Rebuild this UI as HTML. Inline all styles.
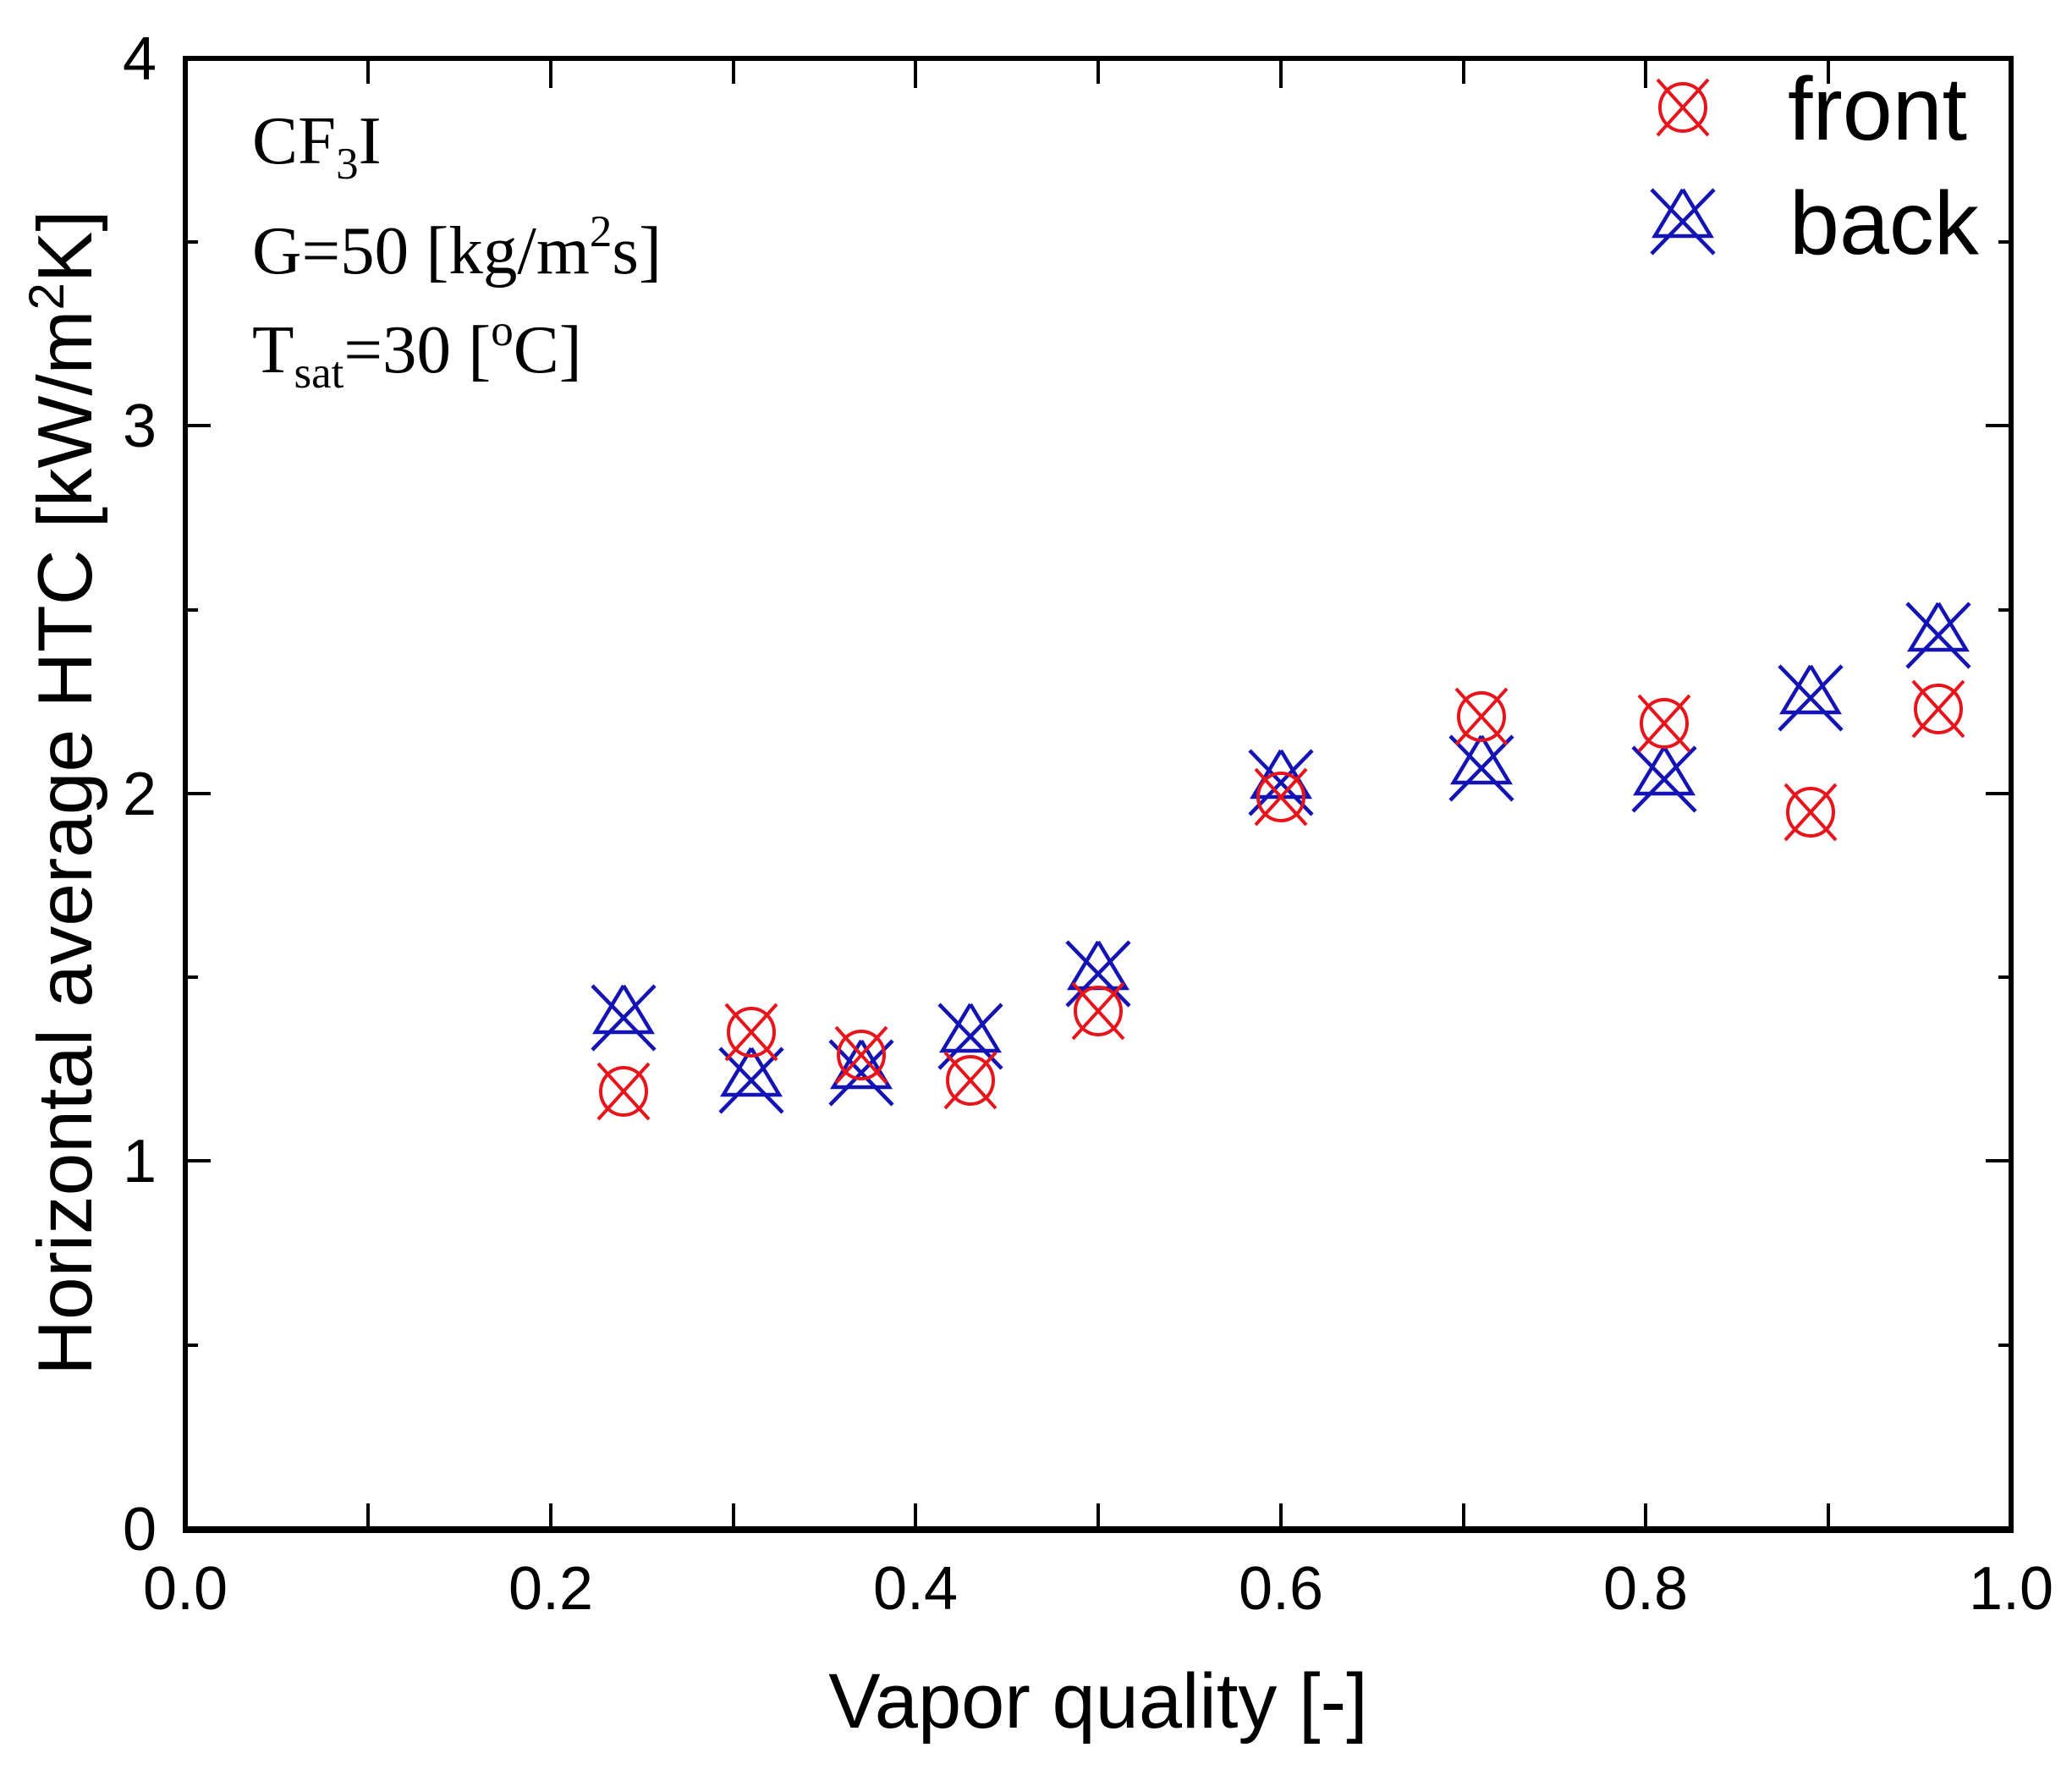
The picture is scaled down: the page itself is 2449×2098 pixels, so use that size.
<!DOCTYPE html>
<html><head><meta charset="utf-8"><style>
html,body{margin:0;padding:0;background:#fff;}
svg{display:block;}
</style></head><body>
<svg width="2449" height="2098" viewBox="0 0 2449 2098" xmlns="http://www.w3.org/2000/svg">
<defs>
<g id="f" fill="none" stroke="#e8141b" stroke-width="4">
<ellipse cx="0" cy="0" rx="27" ry="28"/>
<line x1="-30" y1="-33" x2="30" y2="33"/><line x1="30" y1="-33" x2="-30" y2="33"/>
</g>
<g id="b" fill="none" stroke="#1414b4" stroke-width="4.5">
<line x1="-37" y1="-38" x2="37" y2="38"/><line x1="37" y1="-38" x2="-37" y2="38"/>
<polyline points="0,-38 -33,17 33,17 0,-38"/>
</g>
</defs>
<rect x="219" y="69" width="2158" height="1738" fill="none" stroke="#000" stroke-width="6"/>
<line x1="216" y1="1808" x2="2380" y2="1808" stroke="#000" stroke-width="8"/>
<g stroke="#000" stroke-width="4">
<line x1="435" y1="1807" x2="435" y2="1777"/><line x1="651" y1="1807" x2="651" y2="1777"/><line x1="867" y1="1807" x2="867" y2="1777"/><line x1="1082" y1="1807" x2="1082" y2="1777"/><line x1="1298" y1="1807" x2="1298" y2="1777"/><line x1="1514" y1="1807" x2="1514" y2="1777"/><line x1="1730" y1="1807" x2="1730" y2="1777"/><line x1="1945" y1="1807" x2="1945" y2="1777"/><line x1="2161" y1="1807" x2="2161" y2="1777"/>
<line x1="435" y1="69" x2="435" y2="99"/><line x1="651" y1="69" x2="651" y2="104"/><line x1="867" y1="69" x2="867" y2="99"/><line x1="1082" y1="69" x2="1082" y2="104"/><line x1="1298" y1="69" x2="1298" y2="99"/><line x1="1514" y1="69" x2="1514" y2="104"/><line x1="1730" y1="69" x2="1730" y2="99"/><line x1="1945" y1="69" x2="1945" y2="104"/><line x1="2161" y1="69" x2="2161" y2="99"/>
<line x1="219" y1="1590" x2="234" y2="1590"/><line x1="219" y1="1372" x2="249" y2="1372"/><line x1="219" y1="1155" x2="234" y2="1155"/><line x1="219" y1="938" x2="249" y2="938"/><line x1="219" y1="721" x2="234" y2="721"/><line x1="219" y1="503" x2="249" y2="503"/><line x1="219" y1="286" x2="234" y2="286"/>
<line x1="2377" y1="1590" x2="2362" y2="1590"/><line x1="2377" y1="1372" x2="2347" y2="1372"/><line x1="2377" y1="1155" x2="2362" y2="1155"/><line x1="2377" y1="938" x2="2347" y2="938"/><line x1="2377" y1="721" x2="2362" y2="721"/><line x1="2377" y1="503" x2="2347" y2="503"/><line x1="2377" y1="286" x2="2362" y2="286"/>
</g>
<g font-family="Liberation Sans, sans-serif" font-size="72" fill="#000" text-anchor="middle">
<text x="219" y="1902">0.0</text><text x="651" y="1902">0.2</text><text x="1082" y="1902">0.4</text><text x="1514" y="1902">0.6</text><text x="1945" y="1902">0.8</text><text x="2377" y="1902">1.0</text>
</g>
<g font-family="Liberation Sans, sans-serif" font-size="72" fill="#000" text-anchor="end">
<text x="185" y="1832">0</text><text x="185" y="1397">1</text><text x="185" y="963">2</text><text x="185" y="528">3</text><text x="185" y="94">4</text>
</g>
<text x="1298" y="2042" font-family="Liberation Sans, sans-serif" font-size="92" text-anchor="middle">Vapor quality [-]</text>
<text transform="translate(108,937) rotate(-90)" font-family="Liberation Sans, sans-serif" font-size="91" text-anchor="middle">Horizontal average HTC [kW/m<tspan font-size="58" dy="-33">2</tspan><tspan dy="33">K]</tspan></text>
<g font-family="Liberation Serif, serif" font-size="81" fill="#000">
<text x="298" y="193">CF<tspan font-size="53" dy="18">3</tspan><tspan dy="-18">I</tspan></text>
<text x="298" y="323">G=50 [kg/m<tspan font-size="53" dy="-32">2</tspan><tspan dy="32">s]</tspan></text>
<text x="298" y="440">T<tspan font-size="53" dy="18">sat</tspan><tspan dy="-18">=30 [</tspan><tspan font-size="53" dy="-32">o</tspan><tspan dy="32">C]</tspan></text>
</g>
<g font-family="Liberation Sans, sans-serif" font-size="106" fill="#000">
<text x="2113" y="165">front</text>
<text x="2115" y="300">back</text>
</g>
<use href="#f" x="1989" y="127"/>
<use href="#b" x="1989" y="262"/>
<use href="#b" x="737" y="1203"/><use href="#b" x="888" y="1277"/><use href="#b" x="1018" y="1268"/><use href="#b" x="1147" y="1225"/><use href="#b" x="1298" y="1151"/><use href="#b" x="1514" y="925"/><use href="#b" x="1751" y="908"/><use href="#b" x="1967" y="921"/><use href="#b" x="2140" y="825"/><use href="#b" x="2291" y="751"/>
<use href="#f" x="737" y="1290"/><use href="#f" x="888" y="1220"/><use href="#f" x="1018" y="1247"/><use href="#f" x="1147" y="1277"/><use href="#f" x="1298" y="1195"/><use href="#f" x="1514" y="942"/><use href="#f" x="1751" y="847"/><use href="#f" x="1967" y="855"/><use href="#f" x="2140" y="960"/><use href="#f" x="2291" y="838"/>
</svg>
</body></html>
